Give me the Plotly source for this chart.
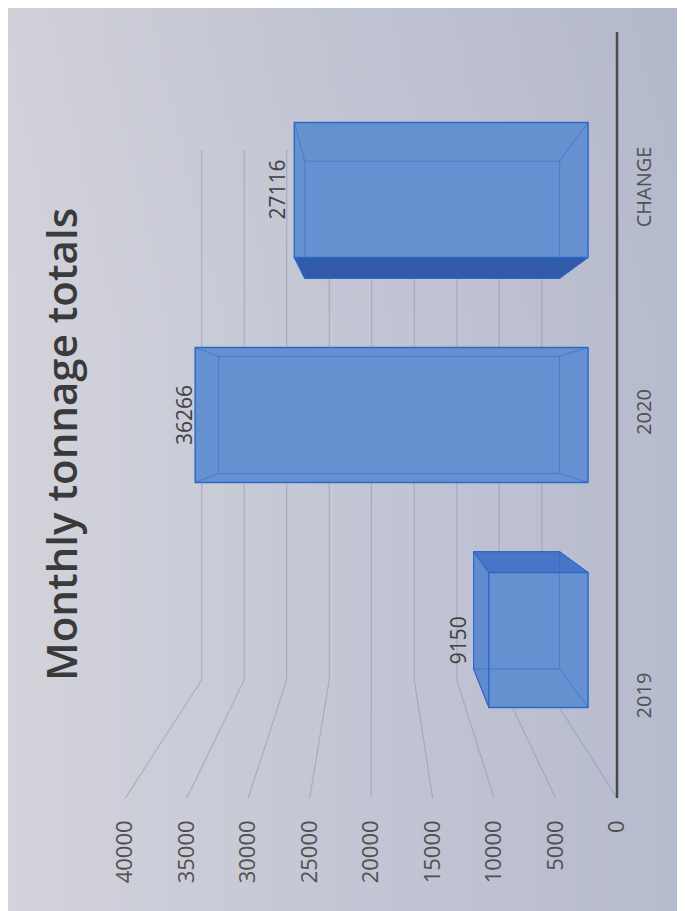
import base64
import struct
import zlib
import plotly.graph_objects as go

# ---------------- data ----------------
categories = ["2019", "2020", "CHANGE"]
values = [9150, 36266, 27116]
tick_values = [0, 5000, 10000, 15000, 20000, 25000, 30000, 35000, 40000]
tick_labels = ["0", "5000", "10000", "15000", "20000", "25000", "30000", "35000", "40000"]
title_text = "Monthly tonnage totals"

# ---------------- layout / style constants (screen pixels) ----------------
OFF = 8                               # page body margin
W, H = 677, 903                       # figure size
PX0, XSC = 588.0, 10.83 / 1000.0      # screen x of value 0, px per unit (front faces)
PY0, YSC = 640.0, 225.0               # screen y of category 0, px per category
PL, PR, PT, PB = 108, 625, 30, 806    # plot area on screen
ML, MR, MT, MB = PL - OFF, W - (PR - OFF), PT - OFF, H - (PB - OFF)
PW, PH = PR - PL, PB - PT
X_RANGE = [(PX0 - PL) / XSC, (PX0 - PR) / XSC]   # reversed value axis
Y_RANGE = [(PY0 - PB) / YSC, (PY0 - PT) / YSC]

VX, VY = 19850.0, 1.0                 # vanishing point (data units)
K_BACK = 0.868                        # depth factor of the bars' back faces
K_WALL = 0.785                        # depth factor of the back wall
K_FRONT = 1.135                       # depth factor of the front floor edge
HALF = 0.30                           # half bar thickness (category units)
WALL_LO, WALL_HI = -0.5, 2.5
CAT_LABEL_SHIFT = [-0.26, 0.0, 0.0]   # label placement tweak along category axis

FONT = "Open Sans"
EDGE = "rgb(45,104,200)"
HID_EDGE = "rgba(45,104,200,0.55)"
C_FRONT = "rgb(101,145,209)"
C_END = "rgb(96,140,207)"
C_UP = "rgb(72,117,199)"
C_LOW = "rgb(50,90,170)"
C_BACK = "rgb(90,134,204)"
GRID = "rgba(140,146,175,0.5)"


def persp(x, y, k):
    return VX + k * (x - VX), VY + k * (y - VY)


def inv_front(x):
    return VX + (x - VX) / K_FRONT


def make_png(w, h, fn):
    raw = bytearray()
    for j in range(h):
        raw.append(0)
        for i in range(w):
            raw += bytes(fn((i + 0.5) / w, (j + 0.5) / h))

    def chunk(tag, data):
        c = struct.pack(">I", len(data)) + tag + data
        return c + struct.pack(">I", zlib.crc32(tag + data) & 0xFFFFFFFF)

    png = (b"\x89PNG\r\n\x1a\n"
           + chunk(b"IHDR", struct.pack(">IIBBBBB", w, h, 8, 2, 0, 0, 0))
           + chunk(b"IDAT", zlib.compress(bytes(raw)))
           + chunk(b"IEND", b""))
    return "data:image/png;base64," + base64.b64encode(png).decode()


def bg(u, v):
    left = (212, 212, 220)
    right = (182, 187, 206)
    t = min(1.0, max(0.0, u)) ** 0.9
    c = [left[n] * (1 - t) + right[n] * t for n in range(3)]
    d = 8 * max(0.0, 0.35 - v)
    return tuple(int(max(0, min(255, x - d))) for x in c)


fig = go.Figure()


def line(xs, ys, color, width=1.0, **kw):
    fig.add_trace(go.Scatter(x=xs, y=ys, mode="lines", line=dict(color=color, width=width),
                             hoverinfo="skip", showlegend=False, **kw))


# ---------------- walls / gridlines ----------------
for v in tick_values:
    p1 = persp(v, WALL_HI, K_WALL)
    p2 = persp(v, WALL_LO, K_WALL)
    p3 = persp(v, WALL_LO, K_FRONT)
    line([p1[0], p2[0], p3[0]], [p1[1], p2[1], p3[1]], GRID, 1.2)

# front category axis line
a = persp(0, WALL_LO, K_FRONT)
b = persp(0, WALL_HI, K_FRONT)
line([a[0], b[0]], [a[1], b[1]], "#4a4a4a", 2.5)


def poly(pts, fill, line_color, width=1.0):
    xs = [p[0] for p in pts] + [pts[0][0]]
    ys = [p[1] for p in pts] + [pts[0][1]]
    fig.add_trace(go.Scatter(x=xs, y=ys, mode="lines", fill="toself",
                             fillcolor=fill, line=dict(color=line_color, width=width),
                             hoverinfo="skip", showlegend=False))


# ---------------- 3D-looking bars ----------------
for i, v in enumerate(values):
    lo, hi = i - HALF, i + HALF
    f = [(0, lo), (v, lo), (v, hi), (0, hi)]
    bk = [persp(x, y, K_BACK) for x, y in f]
    faces = [
        ([f[1], f[2], bk[2], bk[1]], C_END, bk[1][0] > v),     # value end
        ([f[0], f[3], bk[3], bk[0]], C_END, bk[0][0] < 0),     # base end
        ([f[3], f[2], bk[2], bk[3]], C_UP, bk[3][1] > hi),     # upper side
        ([f[0], f[1], bk[1], bk[0]], C_LOW, bk[0][1] < lo),    # lower side
    ]
    poly(bk, C_BACK, EDGE)
    for pts, col, vis in faces:
        if not vis:
            poly(pts, col, EDGE)
    for pts, col, vis in faces:
        if vis:
            poly(pts, col, EDGE)
    poly(f, C_FRONT, EDGE, 1.3)
    for n in range(4):
        line([bk[n][0], bk[(n + 1) % 4][0]], [bk[n][1], bk[(n + 1) % 4][1]], HID_EDGE)
        line([f[n][0], bk[n][0]], [f[n][1], bk[n][1]], HID_EDGE)
    # data label
    mx, _ = persp(v, i, (1 + K_BACK) / 2)
    fig.add_annotation(x=mx, y=i, xref="x", yref="y", text=str(v), showarrow=False,
                       textangle=-90, xanchor="right", yanchor="middle", xshift=-7,
                       font=dict(family=FONT, size=21, color="#404040"))

# invisible trace for the front value axis
fig.add_trace(go.Scatter(x=[tick_values[0], tick_values[-1]], y=[WALL_LO, WALL_LO],
                         xaxis="x2", mode="markers", marker=dict(opacity=0),
                         hoverinfo="skip", showlegend=False))

# ---------------- title ----------------
fig.add_annotation(x=(60 - PL) / PW, y=1 - (445 - PT) / PH, xref="paper", yref="paper",
                   text=title_text, showarrow=False, textangle=-90,
                   xanchor="center", yanchor="middle",
                   font=dict(family=FONT, size=42, color="#3a3a3a", weight=600))

bg_uri = make_png(120, 160, bg)

fig.update_layout(
    width=W, height=H,
    margin=dict(l=ML, r=MR, t=MT, b=MB, pad=0),
    paper_bgcolor="rgb(200,202,214)",
    plot_bgcolor="rgba(0,0,0,0)",
    showlegend=False,
    images=[dict(source=bg_uri, xref="paper", yref="paper",
                 x=-ML / PW, y=1 + MT / PH, sizex=W / PW, sizey=H / PH,
                 sizing="stretch", xanchor="left", yanchor="top", layer="below")],
    xaxis=dict(range=X_RANGE, showgrid=False, zeroline=False, showline=False,
               showticklabels=False, ticks=""),
    xaxis2=dict(range=[inv_front(X_RANGE[0]), inv_front(X_RANGE[1])],
                overlaying="x", anchor="y", side="bottom",
                tickvals=tick_values, ticktext=tick_labels, tickangle=-90,
                ticks="", ticklabelstandoff=9, showgrid=False, zeroline=False,
                showline=False, tickfont=dict(family=FONT, size=22, color="#505050")),
    yaxis=dict(range=Y_RANGE, side="right",
               tickvals=[i + s for i, s in zip(range(len(categories)), CAT_LABEL_SHIFT)],
               ticktext=categories, tickangle=-90, ticks="", ticklabelstandoff=5,
               showgrid=False, zeroline=False, showline=False,
               tickfont=dict(family=FONT, size=20, color="#505050")),
)

fig.write_html("out.html")
